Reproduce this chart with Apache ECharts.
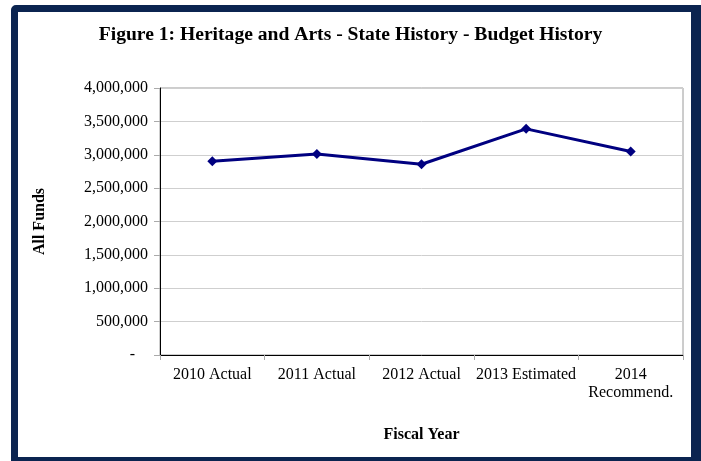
<!DOCTYPE html>
<html>
<head>
<meta charset="utf-8">
<script src="https://cdn.jsdelivr.net/npm/echarts@6/dist/echarts.min.js"></script>
<style>
  html, body { margin: 0; padding: 0; background: #ffffff; }
  #wrap { position: relative; width: 701px; height: 461px; overflow: hidden; background: #ffffff; }
  #frame { position: absolute; left: 11px; top: 5px; width: 700px; height: 460px; box-sizing: border-box;
           border-style: solid; border-color: #0b2450; border-width: 7px 20px 8px 7px; border-radius: 5px; }
  #chart { position: absolute; left: 0; top: 0; width: 701px; height: 461px; }
</style>
</head>
<body>
<div id="wrap">
  <div id="frame"></div>
  <div id="chart"></div>
</div>
<script>
const titleText = 'Figure 1: Heritage and Arts - State History - Budget History';
const categories = ['2010 Actual', '2011 Actual', '2012 Actual', '2013 Estimated', '2014\nRecommend.'];
const allFunds = [2902000, 3011000, 2858000, 3388000, 3048000];
const yMin = 0, yMax = 4000000, yStep = 500000;
const xName = 'Fiscal Year';
const yName = 'All Funds';

const font = 'Liberation Serif, Times New Roman, serif';
const chart = echarts.init(document.getElementById('chart'));
chart.setOption({
  animation: false,
  title: {
    text: titleText, left: 'center', top: 20,
    textStyle: { fontFamily: font, fontWeight: 'bold', fontSize: 19.6, color: '#000' }
  },
  grid: { left: 160, right: 18, top: 88, bottom: 106, show: true, borderColor: '#9a9a9a', borderWidth: 1 },
  xAxis: {
    type: 'category', data: categories, boundaryGap: true,
    name: xName, nameLocation: 'middle', nameGap: 72,
    nameTextStyle: { fontFamily: font, fontWeight: 'bold', fontSize: 16, color: '#000' },
    axisLine: { lineStyle: { color: '#000', width: 1 } },
    axisTick: { show: true, length: 5, lineStyle: { color: '#aaa' } },
    axisLabel: { fontFamily: font, fontSize: 16, color: '#000', margin: 11, lineHeight: 18, interval: 0 }
  },
  yAxis: {
    type: 'value', min: yMin, max: yMax, interval: yStep,
    name: yName, nameLocation: 'middle', nameGap: 112, nameRotate: 90,
    nameTextStyle: { fontFamily: font, fontWeight: 'bold', fontSize: 16, color: '#000' },
    axisLine: { show: true, lineStyle: { color: '#000', width: 1 } },
    axisTick: { show: true, length: 6, lineStyle: { color: '#aaa' } },
    splitLine: { lineStyle: { color: '#cfcfcf', width: 1 } },
    axisLabel: {
      fontFamily: font, fontSize: 16, color: '#000', margin: 12,
      formatter: function (v) { return v === 0 ? '{d|-}' : v.toLocaleString('en-US'); },
      rich: { d: { fontFamily: font, fontSize: 16, color: '#000', padding: [0, 13, 0, 0] } }
    }
  },
  series: [{
    type: 'line', data: allFunds,
    symbol: 'diamond', symbolSize: 10,
    lineStyle: { color: '#000080', width: 3 },
    itemStyle: { color: '#000080' }
  }]
});
</script>
</body>
</html>
